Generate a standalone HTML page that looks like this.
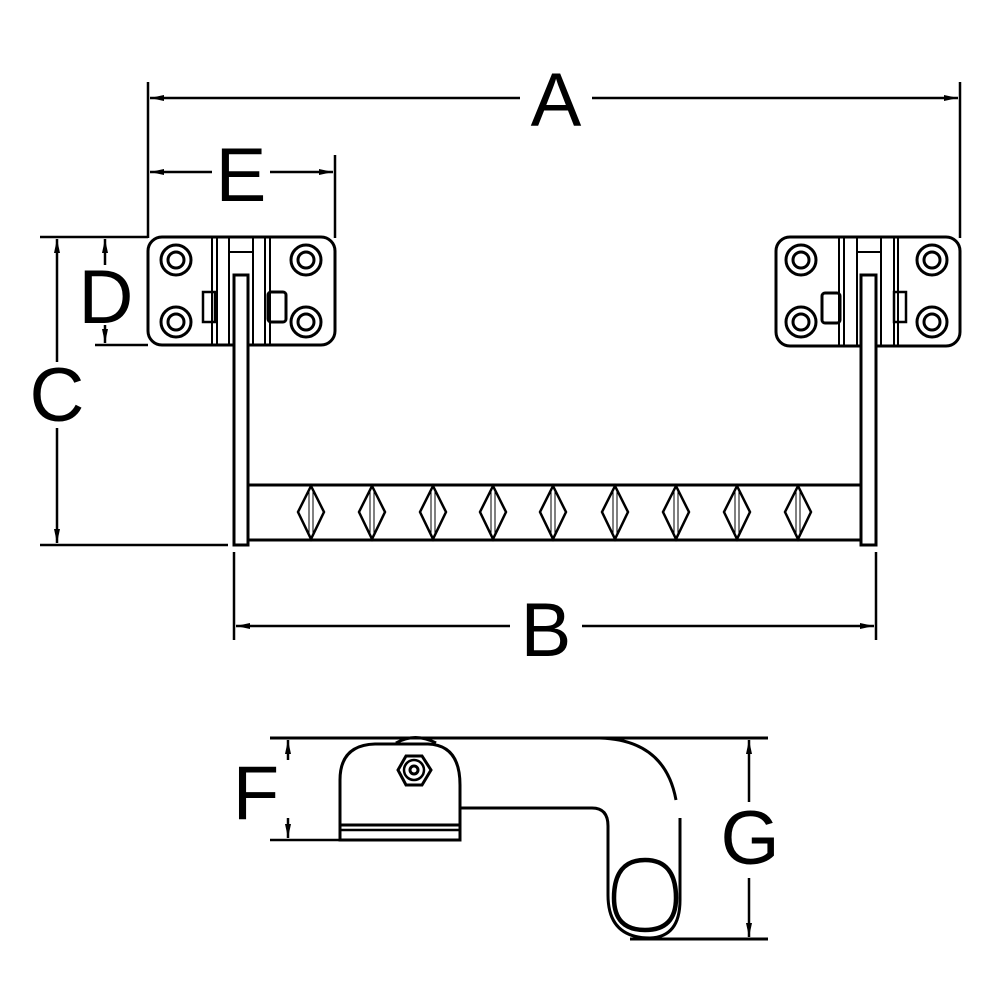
<!DOCTYPE html>
<html><head><style>html,body{margin:0;padding:0;background:#fff}svg{display:block}</style></head>
<body>
<svg width="1000" height="1000" viewBox="0 0 1000 1000" xmlns="http://www.w3.org/2000/svg" font-family="Liberation Sans, sans-serif">
<defs>
<marker id="ar" markerWidth="14" markerHeight="8" refX="14" refY="4" orient="auto-start-reverse" markerUnits="userSpaceOnUse"><path d="M0,1 L14,4 L0,7 Z" fill="#000" stroke="none"/></marker>
</defs>
<g stroke="#000" fill="none" stroke-width="2.5">
<line x1="148" y1="82" x2="148" y2="238"/>
<line x1="960" y1="82" x2="960" y2="238"/>
<line x1="335" y1="155" x2="335" y2="238"/>
<line x1="40" y1="237" x2="148" y2="237"/>
<line x1="95" y1="345" x2="148" y2="345"/>
<line x1="40" y1="545" x2="228" y2="545"/>
<line x1="234" y1="552" x2="234" y2="640"/>
<line x1="876" y1="552" x2="876" y2="640"/>
<line x1="150" y1="98" x2="520" y2="98" marker-start="url(#ar)"/>
<line x1="592" y1="98" x2="958" y2="98" marker-end="url(#ar)"/>
<line x1="150" y1="172" x2="212" y2="172" marker-start="url(#ar)"/>
<line x1="270" y1="172" x2="333" y2="172" marker-end="url(#ar)"/>
<line x1="57" y1="239" x2="57" y2="362" marker-start="url(#ar)"/>
<line x1="57" y1="428" x2="57" y2="543" marker-end="url(#ar)"/>
<line x1="105" y1="239" x2="105" y2="265" marker-start="url(#ar)"/>
<line x1="105" y1="325" x2="105" y2="343" marker-end="url(#ar)"/>
<line x1="236" y1="626" x2="510" y2="626" marker-start="url(#ar)"/>
<line x1="582" y1="626" x2="874" y2="626" marker-end="url(#ar)"/>
<rect x="148" y="237" width="187" height="108" rx="14" stroke-width="3"/>
<rect x="776" y="237" width="184" height="109" rx="14" stroke-width="3"/>
<g stroke-width="2">
<line x1="212" y1="237" x2="212" y2="345"/><line x1="217" y1="237" x2="217" y2="345"/>
<line x1="229" y1="237" x2="229" y2="345"/><line x1="253" y1="237" x2="253" y2="345"/>
<line x1="265" y1="237" x2="265" y2="345"/><line x1="270" y1="237" x2="270" y2="345"/>
<line x1="230" y1="252" x2="252" y2="252"/>
<line x1="839" y1="237" x2="839" y2="346"/><line x1="844" y1="237" x2="844" y2="346"/>
<line x1="857" y1="237" x2="857" y2="346"/><line x1="881" y1="237" x2="881" y2="346"/>
<line x1="894" y1="237" x2="894" y2="346"/><line x1="898" y1="237" x2="898" y2="346"/>
<line x1="858" y1="252" x2="880" y2="252"/>
<rect x="203" y="292" width="12" height="30" stroke-width="2.5"/><rect x="268" y="292" width="18" height="30" rx="3" stroke-width="3"/>
<rect x="822" y="293" width="18" height="30" rx="3" stroke-width="3"/><rect x="894" y="292" width="12" height="30" stroke-width="2.5"/>
</g>
<g stroke-width="3">
<circle cx="176" cy="260" r="15"/><circle cx="176" cy="260" r="8"/>
<circle cx="176" cy="322" r="15"/><circle cx="176" cy="322" r="8"/>
<circle cx="306" cy="260" r="15"/><circle cx="306" cy="260" r="8"/>
<circle cx="306" cy="322" r="15"/><circle cx="306" cy="322" r="8"/>
<circle cx="801" cy="260" r="15"/><circle cx="801" cy="260" r="8"/>
<circle cx="801" cy="322" r="15"/><circle cx="801" cy="322" r="8"/>
<circle cx="932" cy="260" r="15"/><circle cx="932" cy="260" r="8"/>
<circle cx="932" cy="322" r="15"/><circle cx="932" cy="322" r="8"/>
</g>
<rect x="234" y="275" width="14" height="270" fill="#fff" stroke-width="3"/>
<rect x="861" y="275" width="15" height="270" fill="#fff" stroke-width="3"/>
<line x1="248" y1="485" x2="861" y2="485" stroke-width="3"/>
<line x1="248" y1="540" x2="861" y2="540" stroke-width="3"/>
<g stroke-width="2.5">
<path d="M311,486 L298,512 L311,539 L324,512 Z"/><path d="M372,486 L359,512 L372,539 L385,512 Z"/>
<path d="M433,486 L420,512 L433,539 L446,512 Z"/><path d="M493,486 L480,512 L493,539 L506,512 Z"/>
<path d="M553,486 L540,512 L553,539 L566,512 Z"/><path d="M615,486 L602,512 L615,539 L628,512 Z"/>
<path d="M676,486 L663,512 L676,539 L689,512 Z"/><path d="M737,486 L724,512 L737,539 L750,512 Z"/>
<path d="M798,486 L785,512 L798,539 L811,512 Z"/>
</g>
<g stroke-width="1">
<path d="M309,488V537M313,488V537M370,488V537M374,488V537M431,488V537M435,488V537M491,488V537M495,488V537M551,488V537M555,488V537M613,488V537M617,488V537M674,488V537M678,488V537M735,488V537M739,488V537M796,488V537M800,488V537"/>
</g>
<line x1="270" y1="738" x2="768" y2="738" stroke-width="3"/>
<line x1="270" y1="840" x2="340" y2="840"/>
<line x1="630" y1="939" x2="768" y2="939" stroke-width="3"/>
<line x1="288" y1="740" x2="288" y2="760" marker-start="url(#ar)"/>
<line x1="288" y1="818" x2="288" y2="838" marker-end="url(#ar)"/>
<line x1="749" y1="740" x2="749" y2="802" marker-start="url(#ar)"/>
<line x1="749" y1="878" x2="749" y2="937" marker-end="url(#ar)"/>
<path d="M396,743 Q415,732 436,743" stroke-width="3"/>
<path d="M340,820 L340,780 Q340,745 375,744 L428,744 Q460,745 460,785 L460,840 L340,840 Z" stroke-width="3"/>
<line x1="340" y1="825" x2="460" y2="825" stroke-width="3"/><line x1="340" y1="830" x2="460" y2="830"/>
<path d="M406,756 L422,756 L431,770 L422,785 L406,785 L398,770 Z" stroke-width="3"/>
<circle cx="414" cy="770" r="10"/><circle cx="414" cy="770" r="4" stroke-width="3"/>
<path d="M460,808 L592,808 Q608,808 608,826 L608,895 Q608,938 650,938 Q680,937 680,900 L680,818" stroke-width="3"/>
<path d="M600,738 Q665,740 676,800" stroke-width="3"/>
<path d="M614,898 Q614,860 645,860 Q676,860 676,898 Q676,930 645,930 Q614,930 614,898 Z" stroke-width="4.5"/>
</g>
<g font-size="76" text-anchor="middle" fill="#000">
<text x="556" y="126">A</text>
<text x="241" y="201">E</text>
<text x="106" y="323">D</text>
<text x="57" y="421">C</text>
<text x="546" y="656">B</text>
<text x="256" y="819">F</text>
<text x="750" y="864">G</text>
</g>
</svg>
</body></html>
